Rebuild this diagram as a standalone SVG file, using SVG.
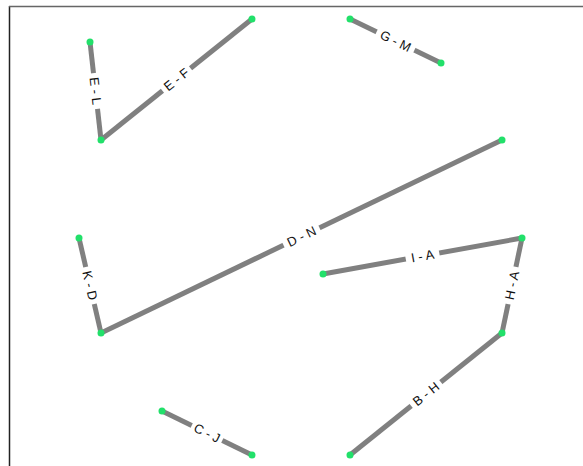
<svg xmlns="http://www.w3.org/2000/svg" width="583" height="466" viewBox="0 0 583 466">
<style>
.edge{stroke:#808080;stroke-width:5;stroke-linecap:butt;fill:none}
.lbl{font-family:"Liberation Sans",Arial,sans-serif;font-size:13px;fill:#111;text-anchor:middle;dominant-baseline:central}
.bg{fill:#ffffff}
.node{fill:#22e06a}
</style>
<rect x="0" y="0" width="583" height="466" fill="#ffffff"/>
<line x1="9.5" y1="6" x2="9.5" y2="466" stroke="#222" stroke-width="1.5"/>
<line x1="9" y1="6.5" x2="583" y2="6.5" stroke="#666" stroke-width="1.5"/>
<g id="connectors">
  <line class="edge" x1="90" y1="42" x2="101" y2="140"/>
  <line class="edge" x1="101" y1="140" x2="252" y2="19"/>
  <line class="edge" x1="350" y1="19" x2="441" y2="63"/>
  <line class="edge" x1="101" y1="333" x2="502" y2="140"/>
  <line class="edge" x1="79" y1="238" x2="101" y2="333"/>
  <line class="edge" x1="323" y1="274" x2="522" y2="238"/>
  <line class="edge" x1="502" y1="333" x2="522" y2="238"/>
  <line class="edge" x1="350" y1="455" x2="502" y2="333"/>
  <line class="edge" x1="162" y1="411" x2="252" y2="455"/>
  <g transform="translate(95.5,91) rotate(83.6)"><rect class="bg" x="-18" y="-7" width="36" height="14"/><text class="lbl">E - L</text></g>
  <g transform="translate(176.5,79.5) rotate(-38.7)"><rect class="bg" x="-18" y="-7" width="36" height="14"/><text class="lbl">E - F</text></g>
  <g transform="translate(395.5,41) rotate(25.8)"><rect class="bg" x="-21" y="-7" width="42" height="14"/><text class="lbl">G - M</text></g>
  <g transform="translate(301.5,236.5) rotate(-25.7)"><rect class="bg" x="-20" y="-7" width="40" height="14"/><text class="lbl">D - N</text></g>
  <g transform="translate(90,285.5) rotate(77)"><rect class="bg" x="-19" y="-7" width="38" height="14"/><text class="lbl">K - D</text></g>
  <g transform="translate(422.5,256) rotate(-10.3)"><rect class="bg" x="-17" y="-7" width="34" height="14"/><text class="lbl">I - A</text></g>
  <g transform="translate(512,285.5) rotate(-78)"><rect class="bg" x="-19" y="-7" width="38" height="14"/><text class="lbl">H - A</text></g>
  <g transform="translate(426,394) rotate(-38.7)"><rect class="bg" x="-19" y="-7" width="38" height="14"/><text class="lbl">B - H</text></g>
  <g transform="translate(207,433) rotate(26)"><rect class="bg" x="-17" y="-7" width="34" height="14"/><text class="lbl">C - J</text></g>
</g>
<g id="node-L"><circle class="node" cx="90" cy="42" r="3.5"/></g>
<g id="node-E"><circle class="node" cx="101" cy="140" r="3.5"/></g>
<g id="node-F"><circle class="node" cx="252" cy="19" r="3.5"/></g>
<g id="node-G"><circle class="node" cx="350" cy="19" r="3.5"/></g>
<g id="node-M"><circle class="node" cx="441" cy="63" r="3.5"/></g>
<g id="node-N"><circle class="node" cx="502" cy="140" r="3.5"/></g>
<g id="node-D"><circle class="node" cx="101" cy="333" r="3.5"/></g>
<g id="node-K"><circle class="node" cx="79" cy="238" r="3.5"/></g>
<g id="node-I"><circle class="node" cx="323" cy="274" r="3.5"/></g>
<g id="node-A"><circle class="node" cx="522" cy="238" r="3.5"/></g>
<g id="node-H"><circle class="node" cx="502" cy="333" r="3.5"/></g>
<g id="node-B"><circle class="node" cx="350" cy="455" r="3.5"/></g>
<g id="node-C"><circle class="node" cx="162" cy="411" r="3.5"/></g>
<g id="node-J"><circle class="node" cx="252" cy="455" r="3.5"/></g>
</svg>
